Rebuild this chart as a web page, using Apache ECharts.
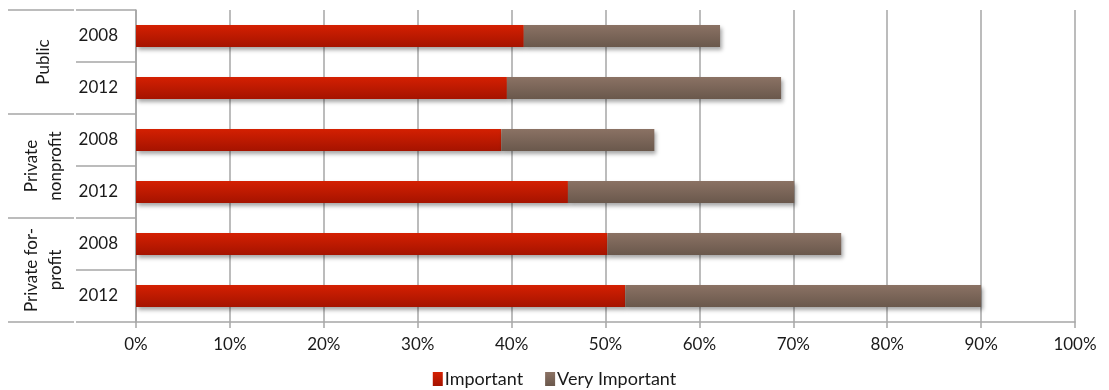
<!DOCTYPE html>
<html>
<head>
<meta charset="utf-8">
<script src="https://cdn.jsdelivr.net/npm/echarts@6/dist/echarts.min.js"></script>
<style>
  html, body { margin: 0; padding: 0; background: #fff; }
  #chart { width: 1109px; height: 390px; }
</style>
</head>
<body>
<div id="chart"></div>
<script>
// data
var years = ['2008', '2012', '2008', '2012', '2008', '2012'];
var groups = ['Public', 'Private\nnonprofit', 'Private for-\nprofit'];
var important = [41.3, 39.5, 38.9, 46.0, 50.2, 52.1];
var veryImportant = [20.9, 29.2, 16.3, 24.1, 24.9, 37.9];

var gridGray = '#a6a6a6';
var font = 'Lato, "Open Sans", sans-serif';

function grad(top, bottom) {
  return {
    type: 'linear', x: 0, y: 0, x2: 0, y2: 1,
    colorStops: [{ offset: 0, color: top }, { offset: 1, color: bottom }]
  };
}

var chart = echarts.init(document.getElementById('chart'));

var barStyle = function (c) {
  return {
    color: c,
    shadowColor: 'rgba(0,0,0,0.35)',
    shadowBlur: 4,
    shadowOffsetX: 2,
    shadowOffsetY: 3
  };
};

// separator lines of the two-level category labels
function renderSeparators(params, api) {
  var i = api.value(1);
  var p = api.coord([0, i]);
  var h = api.size([0, 1])[1];
  var x0 = p[0];
  var ys = [p[1] - h / 2];
  if (i === years.length - 1) ys.push(p[1] + h / 2);
  var st = { stroke: gridGray, lineWidth: 1.5 };
  var children = [];
  ys.forEach(function (y, k) {
    children.push({ type: 'line', shape: { x1: x0 - 60, y1: y, x2: x0, y2: y }, style: st });
    if (i % 2 === 0 || k === 1) {
      children.push({ type: 'line', shape: { x1: x0 - 128, y1: y, x2: x0 - 62, y2: y }, style: st });
    }
  });
  return { type: 'group', children: children };
}

var option = {
  backgroundColor: '#fff',
  animation: false,
  textStyle: { fontFamily: font },
  grid: { left: 136, right: 34, top: 10, bottom: 68 },
  legend: {
    bottom: -3,
    left: 'center',
    itemWidth: 10,
    itemHeight: 14,
    itemGap: 22,
    icon: 'rect',
    textStyle: { fontSize: 18, color: '#1a1a1a', fontFamily: font, padding: [0, 0, 0, -3] },
    data: ['Important', 'Very Important']
  },
  xAxis: {
    type: 'value',
    min: 0,
    max: 100,
    interval: 10,
    axisLine: { show: true, lineStyle: { color: gridGray, width: 1.5 } },
    axisTick: { show: true, length: 6, lineStyle: { color: gridGray, width: 1.5 } },
    splitLine: { show: true, lineStyle: { color: gridGray, width: 1.5 } },
    axisLabel: { formatter: '{value}%', fontSize: 17, color: '#1a1a1a', margin: 14, fontFamily: font }
  },
  yAxis: [{
    type: 'category',
    data: years,
    inverse: true,
    position: 'left',
    axisLine: { show: true, lineStyle: { color: gridGray, width: 1.5 } },
    axisTick: { show: false },
    axisLabel: { fontSize: 17, color: '#1a1a1a', margin: 18, interval: 0, fontFamily: font }
  }, {
    type: 'category',
    data: groups,
    inverse: true,
    position: 'left',
    offset: 62,
    axisLine: { show: false },
    axisTick: { show: false },
    axisLabel: {
      rotate: 90, fontSize: 17, color: '#1a1a1a', margin: 30, interval: 0,
      align: 'center', verticalAlign: 'middle', lineHeight: 24, fontFamily: font
    }
  }],
  series: [{
    name: 'Important',
    type: 'bar',
    stack: 'total',
    yAxisIndex: 0,
    barWidth: 22,
    itemStyle: barStyle(grad('#d42002', '#a51300')),
    data: important
  }, {
    name: 'Very Important',
    type: 'bar',
    stack: 'total',
    yAxisIndex: 0,
    barWidth: 22,
    itemStyle: barStyle(grad('#8b7264', '#6a584c')),
    data: veryImportant
  }, {
    name: 'separators',
    type: 'custom',
    yAxisIndex: 0,
    clip: false,
    silent: true,
    renderItem: renderSeparators,
    encode: { x: 0, y: 1 },
    data: years.map(function (y, i) { return [0, i]; })
  }]
};

chart.setOption(option);
</script>
</body>
</html>
